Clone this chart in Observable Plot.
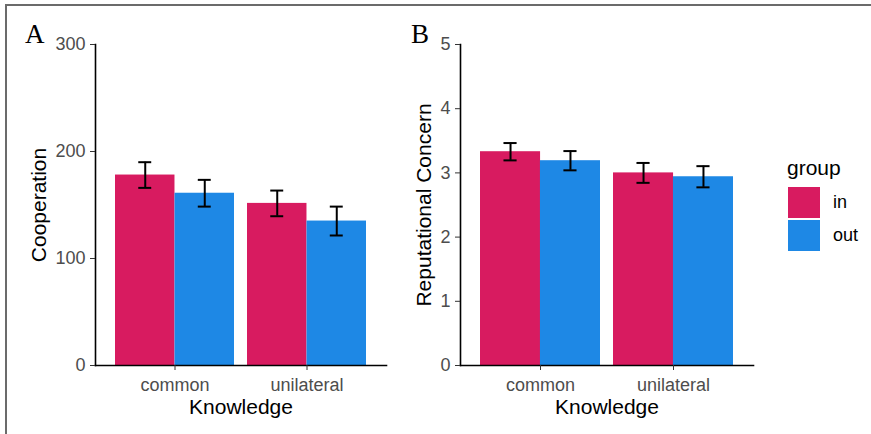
<!DOCTYPE html>
<html>
<head>
<meta charset="utf-8">
<script src="https://cdn.jsdelivr.net/npm/d3@7"></script>
<script src="https://cdn.jsdelivr.net/npm/@observablehq/plot@0.6"></script>
<style>
  html, body { margin: 0; padding: 0; background: #fff; }
  #wrap { position: relative; width: 871px; height: 434px; overflow: hidden; background: #fff;
          font-family: "Liberation Sans", Arial, sans-serif; }
  #border { position: absolute; left: 5px; top: 4px; width: 900px; height: 500px;
            border-top: 2px solid #6b6b6b; border-left: 2px solid #6b6b6b; }
  .panel { position: absolute; top: 0; }
  .letter { position: absolute; font-family: "Liberation Serif", "Times New Roman", serif;
            font-size: 27px; line-height: 27px; color: #000; }
  .lg { position: absolute; color: #000; white-space: nowrap; }
  .sw { position: absolute; width: 32px; }
</style>
</head>
<body>
<div id="wrap">
  <div id="border"></div>
  <div id="panelA" class="panel" style="left:0px"></div>
  <div id="panelB" class="panel" style="left:400px"></div>
  <div class="letter" style="left:25px; top:21px">A</div>
  <div class="letter" style="left:411px; top:21px">B</div>
  <div id="legend"></div>
</div>
<script>
// ---- data ----
const knowledge = ["common", "unilateral"];
const groups = ["in", "out"];
const groupColors = ["#D81B60", "#1E88E5"];
// order: common-in, common-out, unilateral-in, unilateral-out
const cooperationMean = [178, 161, 151.5, 135];
const cooperationSE = [12, 12.5, 12, 13.5];
const concernMean = [3.33, 3.19, 3.0, 2.94];
const concernSE = [0.135, 0.15, 0.155, 0.165];
const cooperationTicks = [0, 100, 200, 300];
const concernTicks = [0, 1, 2, 3, 4, 5];

function rowsOf(means, ses) {
  const rows = [];
  knowledge.forEach((k, i) => groups.forEach((g, j) => {
    const n = i * groups.length + j;
    rows.push({knowledge: k, group: g, value: means[n], se: ses[n]});
  }));
  return rows;
}

const FONT = '"Liberation Sans", Arial, sans-serif';
const PI = 0.1, PO = 0.15;

function panel({rows, yDomain, yTicks, yLabel, labelDx, width, marginLeft, marginRight}) {
  const height = 434, marginTop = 44, marginBottom = 69;
  const range = width - marginLeft - marginRight;
  const bw = range / (knowledge.length - PI + 2 * PO) * (1 - PI);
  const half = bw / 2, quarter = bw / 4;
  const capInset = (bw - 13) / 2;
  const marks = [];
  groups.forEach((g, j) => {
    const sub = rows.filter(d => d.group === g);
    const off = j === 0 ? -quarter : quarter;
    marks.push(Plot.barY(sub, {
      x: "knowledge", y: "value", fill: "group",
      insetLeft: j === 0 ? 0 : half, insetRight: j === 0 ? half : 0
    }));
    marks.push(Plot.ruleX(sub, {
      x: "knowledge", y1: d => d.value - d.se, y2: d => d.value + d.se,
      dx: off, stroke: "#000", strokeWidth: 2
    }));
    marks.push(Plot.tickY(sub, {
      x: "knowledge", y: d => d.value + d.se, dx: off,
      insetLeft: capInset, insetRight: capInset, stroke: "#000", strokeWidth: 2
    }));
    marks.push(Plot.tickY(sub, {
      x: "knowledge", y: d => d.value - d.se, dx: off,
      insetLeft: capInset, insetRight: capInset, stroke: "#000", strokeWidth: 2
    }));
  });
  marks.push(Plot.frame({anchor: "left", stroke: "#000", strokeWidth: 1.6}));
  marks.push(Plot.frame({anchor: "bottom", stroke: "#000", strokeWidth: 1.6}));
  marks.push(Plot.axisY({ticks: yTicks, tickFormat: d3.format("d"), tickSize: 5, tickPadding: 5,
    fontSize: 18, stroke: "#333", fill: "#4d4d4d", label: null}));
  marks.push(Plot.axisX({tickSize: 5, tickPadding: 8, fontSize: 18,
    stroke: "#333", fill: "#4d4d4d", label: null}));
  marks.push(Plot.text([yLabel], {text: d => d, frameAnchor: "left", dx: labelDx, rotate: -90,
    textAnchor: "middle", lineAnchor: "bottom", fontSize: 21, fill: "#000"}));
  marks.push(Plot.text(["Knowledge"], {text: d => d, frameAnchor: "bottom", dy: 48,
    textAnchor: "middle", lineAnchor: "bottom", fontSize: 21, fill: "#000"}));
  return Plot.plot({
    width, height, marginLeft, marginRight, marginTop, marginBottom,
    style: {fontFamily: FONT, background: "transparent", overflow: "visible"},
    x: {domain: knowledge, paddingInner: PI, paddingOuter: PO, axis: null},
    y: {domain: yDomain, axis: null},
    color: {domain: groups, range: groupColors},
    marks
  });
}

document.getElementById("panelA").appendChild(panel({
  rows: rowsOf(cooperationMean, cooperationSE), yDomain: [0, 300], yTicks: cooperationTicks,
  yLabel: "Cooperation", labelDx: -50, width: 400, marginLeft: 95, marginRight: 14
}));
document.getElementById("panelB").appendChild(panel({
  rows: rowsOf(concernMean, concernSE), yDomain: [0, 5], yTicks: concernTicks,
  yLabel: "Reputational Concern", labelDx: -30, width: 360, marginLeft: 60, marginRight: 7
}));

// ---- legend ----
const lg = document.getElementById("legend");
const title = document.createElement("div");
title.className = "lg";
title.style.cssText = "left:787px; top:156px; font-size:21px; line-height:24px;";
title.textContent = "group";
lg.appendChild(title);
groups.forEach((g, i) => {
  const top = 187 + i * 33;
  const sw = document.createElement("div");
  sw.className = "sw";
  sw.style.cssText = `left:788px; top:${top}px; height:31px; background:${groupColors[i]};`;
  lg.appendChild(sw);
  const t = document.createElement("div");
  t.className = "lg";
  t.style.cssText = `left:833px; top:${top}px; height:31px; line-height:31px; font-size:18px;`;
  t.textContent = g;
  lg.appendChild(t);
});
</script>
</body>
</html>
